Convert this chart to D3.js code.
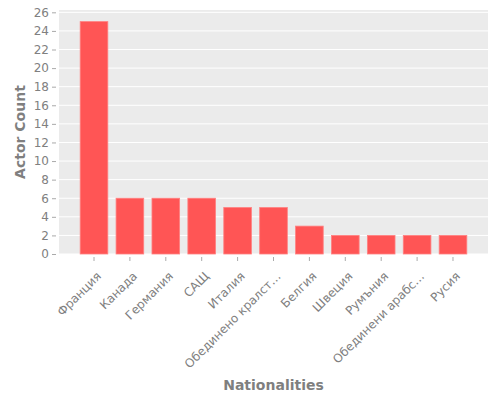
<!DOCTYPE html>
<html>
<head>
<meta charset="utf-8">
<script src="https://cdn.jsdelivr.net/npm/d3@7"></script>
<style>
  body { margin: 0; background: #fff; }
  text { font-family: "DejaVu Sans", sans-serif; }
</style>
</head>
<body>
<svg id="chart"></svg>
<script>
var viewWidth = 500;
var viewHeight = 400;

var nationalities = ["Франция", "Канада", "Германия", "САЩ", "Италия",
  "Обединено кралст…", "Белгия", "Швеция", "Румъния", "Обединени арабс…", "Русия"];
var actorCounts = [25, 6, 6, 6, 5, 5, 3, 2, 2, 2, 2];
var yTicks = d3.range(0, 27, 2);

var margin = {top: 10, right: 12, bottom: 146, left: 59};
var width = viewWidth - margin.left - margin.right;
var height = viewHeight - margin.top - margin.bottom;

var svg = d3.select("#chart")
    .attr("width", viewWidth)
    .attr("height", viewHeight)
  .append("g")
    .attr("transform", "translate(" + margin.left + "," + margin.top + ")");

var x = d3.scaleBand()
    .domain(nationalities)
    .range([0, width])
    .paddingInner(0.23)
    .paddingOuter(0.59);

var y = d3.scaleLinear()
    .domain([0, 26.25])
    .range([height, 0]);

// panel
svg.append("rect")
    .attr("width", width)
    .attr("height", height)
    .attr("fill", "#ebebeb");

// grid
svg.selectAll(".grid")
    .data(yTicks)
  .enter().append("line")
    .attr("class", "grid")
    .attr("x1", 0)
    .attr("x2", width)
    .attr("y1", function(d) { return y(d); })
    .attr("y2", function(d) { return y(d); })
    .attr("stroke", "#fff")
    .attr("stroke-width", 1);

svg.selectAll(".bar")
    .data(actorCounts)
  .enter().append("rect")
    .attr("class", "bar")
    .attr("x", function(d, i) { return x(nationalities[i]); })
    .attr("width", x.bandwidth())
    .attr("y", function(d) { return y(d); })
    .attr("height", function(d) { return height - y(d); })
    .attr("fill", "#ff5555")
    .attr("stroke", "#ff8080")
    .attr("stroke-width", 0.8);

var yAxis = d3.axisLeft(y)
    .tickValues(yTicks)
    .tickSize(4)
    .tickPadding(3);

var yG = svg.append("g")
    .attr("transform", "translate(-3,0)")
    .call(yAxis);
yG.select(".domain").remove();
yG.selectAll(".tick line").attr("stroke", "#aaa");
yG.selectAll(".tick text")
    .attr("fill", "#808080")
    .style("font-size", "12px");

var xAxis = d3.axisBottom(x)
    .tickSize(4)
    .tickPadding(6);

var xG = svg.append("g")
    .attr("transform", "translate(0," + (height + 3) + ")")
    .call(xAxis);
xG.select(".domain").remove();
xG.selectAll(".tick line").attr("stroke", "#aaa");
xG.selectAll(".tick text")
    .attr("fill", "#808080")
    .style("font-size", "12px")
    .style("text-anchor", "end")
    .attr("dy", "0.35em")
    .attr("transform", "translate(5,17) rotate(-45)")
    .attr("x", 0)
    .attr("y", 0);

svg.append("text")
    .attr("transform", "rotate(-90)")
    .attr("x", -height / 2)
    .attr("y", -34)
    .style("text-anchor", "middle")
    .style("font-size", "14px")
    .style("font-weight", "bold")
    .attr("fill", "#7f7f7f")
    .text("Actor Count");

svg.append("text")
    .attr("x", width / 2)
    .attr("y", height + 136)
    .style("text-anchor", "middle")
    .style("font-size", "14px")
    .style("font-weight", "bold")
    .attr("fill", "#7f7f7f")
    .text("Nationalities");
</script>
</body>
</html>
